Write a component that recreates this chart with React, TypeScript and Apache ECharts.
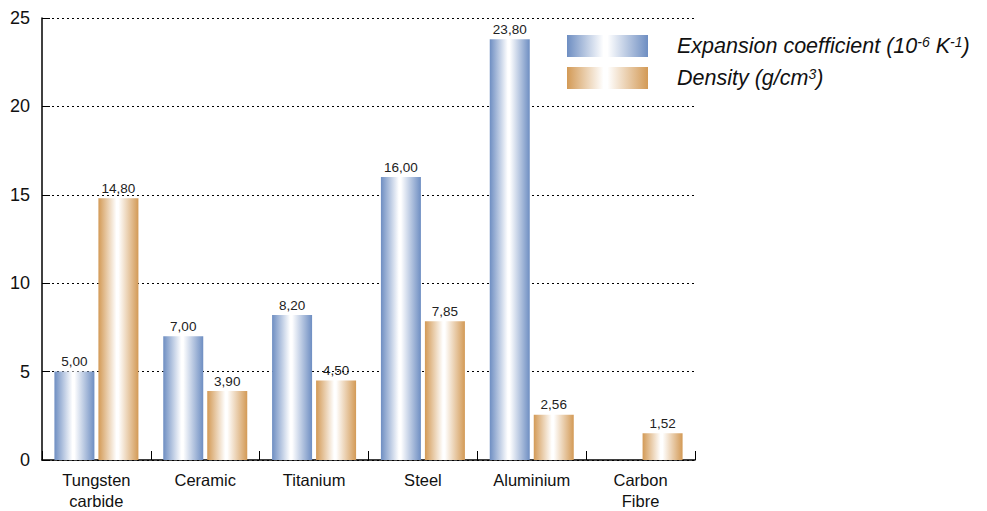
import React, { useEffect, useRef } from "react";
import * as echarts from "echarts";

const categories = ["Tungsten\ncarbide", "Ceramic", "Titanium", "Steel", "Aluminium", "Carbon\nFibre"];
const expansion: (number | null)[] = [5.0, 7.0, 8.2, 16.0, 23.8, null];
const density: number[] = [14.8, 3.9, 4.5, 7.85, 2.56, 1.52];
const yTicks = { min: 0, max: 25, interval: 5 };

const grad = (c: string) =>
  new echarts.graphic.LinearGradient(0, 0, 1, 0, [
    { offset: 0, color: c },
    { offset: 0.45, color: "#ffffff" },
    { offset: 0.5, color: "#ffffff" },
    { offset: 1, color: c },
  ]);

const fmt = (p: any) => (p.value == null ? "" : Number(p.value).toFixed(2).replace(".", ","));

export default function App() {
  const ref = useRef<HTMLDivElement>(null);
  useEffect(() => {
    if (!ref.current) return;
    const chart = echarts.init(ref.current, undefined, { renderer: "svg" });
    const font = "Liberation Sans, Arial, sans-serif";
    chart.setOption({
      animation: false,
      textStyle: { fontFamily: font },
      grid: { left: 42, right: 292, top: 18, bottom: 42, containLabel: false },
      legend: {
        orient: "vertical",
        left: 562,
        top: 30,
        itemWidth: 81,
        itemHeight: 22,
        itemGap: 10,
        icon: "rect",
        textStyle: {
          fontFamily: font,
          fontSize: 21,
          fontStyle: "italic",
          color: "#111",
          padding: [0, 0, 0, 24],
          rich: {
            n: { fontSize: 21.5, lineHeight: 22, fontStyle: "italic", color: "#111", fontFamily: font },
            s: { fontSize: 14, lineHeight: 22, fontStyle: "italic", color: "#111", fontFamily: font, verticalAlign: "top", padding: [0, 0, 8, 0] },
          },
        },
        formatter: (name: string) => {
          if (name.startsWith("Expansion")) return "{n|Expansion coefficient (10}{s|-6}{n| K}{s|-1}{n|)}";
          return "{n|Density (g/cm}{s|3}{n|)}";
        },
      },
      xAxis: {
        type: "category",
        data: categories,
        axisLine: { lineStyle: { color: "#000", width: 1.5 } },
        axisTick: { show: true, inside: true, length: 9, lineStyle: { color: "#000", width: 1 } },
        axisLabel: { color: "#111", fontSize: 16.5, lineHeight: 21, margin: 9, fontFamily: font },
      },
      yAxis: {
        type: "value",
        min: yTicks.min,
        max: yTicks.max,
        interval: yTicks.interval,
        axisLine: { show: true, lineStyle: { color: "#000", width: 1.5 } },
        axisTick: { show: true, inside: true, length: 8, lineStyle: { color: "#000" } },
        axisLabel: { color: "#111", fontSize: 18, margin: 12, fontFamily: font },
        splitLine: { lineStyle: { color: "#000", type: [2, 3], width: 1 } },
      },
      series: [
        {
          name: "Expansion coefficient (10-6 K-1)",
          type: "bar",
          data: expansion,
          barWidth: 40,
          barGap: "10%",
          itemStyle: { color: grad("#6e8ec2") },
          label: { show: true, position: "top", distance: 3, fontSize: 13.5, color: "#222", formatter: fmt, fontFamily: font },
        },
        {
          name: "Density (g/cm3)",
          type: "bar",
          data: density,
          barWidth: 40,
          barGap: "10%",
          itemStyle: { color: grad("#d39a56") },
          label: { show: true, position: "top", distance: 3, fontSize: 13.5, color: "#222", formatter: fmt, fontFamily: font },
        },
      ],
    });
    return () => chart.dispose();
  }, []);
  return <div ref={ref} style={{ position: "absolute", left: 0, top: 0, width: 987, height: 511 }} />;
}
